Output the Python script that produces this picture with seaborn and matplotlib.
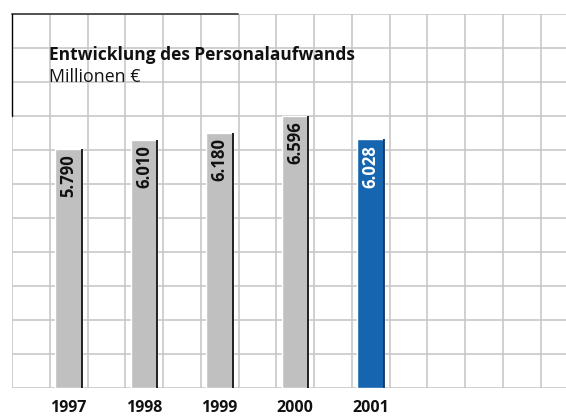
import numpy as np
import pandas as pd
import matplotlib
matplotlib.use('Agg')
import matplotlib.pyplot as plt
import seaborn as sns
from matplotlib.lines import Line2D

# Data
years = ['1997', '1998', '1999', '2000', '2001']
values = [5790, 6010, 6180, 6596, 6028]
labels = ['5.790', '6.010', '6.180', '6.596', '6.028']
bar_colors = ['#c0c0c0', '#c0c0c0', '#c0c0c0', '#c0c0c0', '#1565b0']
edge_colors = ['#111111', '#111111', '#111111', '#111111', '#0b3560']
text_colors = ['#111111', '#111111', '#111111', '#111111', 'white']

title = 'Entwicklung des Personalaufwands'
subtitle = 'Millionen €'

df = pd.DataFrame({'year': years, 'value': values})

sns.set_style('white')
plt.rcParams['font.family'] = ['Open Sans', 'DejaVu Sans']

W, H = 566, 416
fig = plt.figure(figsize=(W / 100, H / 100), dpi=100)
ax = fig.add_axes([12 / W, (H - 388) / H, (W - 12) / W, 374 / H])

sns.barplot(data=df, x='year', y='value', hue='year', palette=bar_colors,
            legend=False, width=0.35, saturation=1, ax=ax, zorder=3)

# dark shadow edge on the right side of every bar
for p, ec in zip(ax.patches, edge_colors):
    ax.vlines(p.get_x() + p.get_width(), 0, p.get_height(), color=ec,
              lw=1.3, zorder=4)

ymax = 9062
ax.set_xlim(-0.75, -0.75 + (W - 12) / 75.5)
ax.set_ylim(0, ymax)

# grid of squares
ax.set_xticks(np.arange(-0.75, 6.7, 0.5), minor=True)
ax.set_yticks(np.linspace(0, ymax, 12), minor=True)
ax.set_yticks([])
ax.grid(which='minor', color='#c8c8c8', lw=1.2, zorder=0)
ax.tick_params(which='both', length=0)
ax.tick_params(axis='x', which='major', pad=9)
ax.set_xticks(range(len(years)))
ax.set_xticklabels(years, fontsize=11.5, fontweight='bold', color='#111111')
ax.set_xlabel('')
ax.set_ylabel('')
for s in ax.spines.values():
    s.set_visible(False)

# value labels inside the bars
for i, (v, lab, tc) in enumerate(zip(values, labels, text_colors)):
    ax.annotate(lab, (i, v), xytext=(0, -4), textcoords='offset points',
                rotation=90, ha='center', va='top', fontsize=12,
                fontweight='bold', color=tc, zorder=5)

# title box frame (top and left)
fig.add_artist(Line2D([12 / W, 238 / W], [(H - 14) / H] * 2,
                      color='#444444', lw=1.3))
fig.add_artist(Line2D([12 / W] * 2, [(H - 14) / H, (H - 116) / H],
                      color='black', lw=1.0))

fig.text(49 / W, (H - 60.5) / H, title, fontsize=12.5, fontweight='bold',
         color='#111111', va='baseline', ha='left')
fig.text(49 / W, (H - 82.5) / H, subtitle, fontsize=12.8,
         color='#111111', va='baseline', ha='left')

plt.savefig('out.png', dpi=100)
